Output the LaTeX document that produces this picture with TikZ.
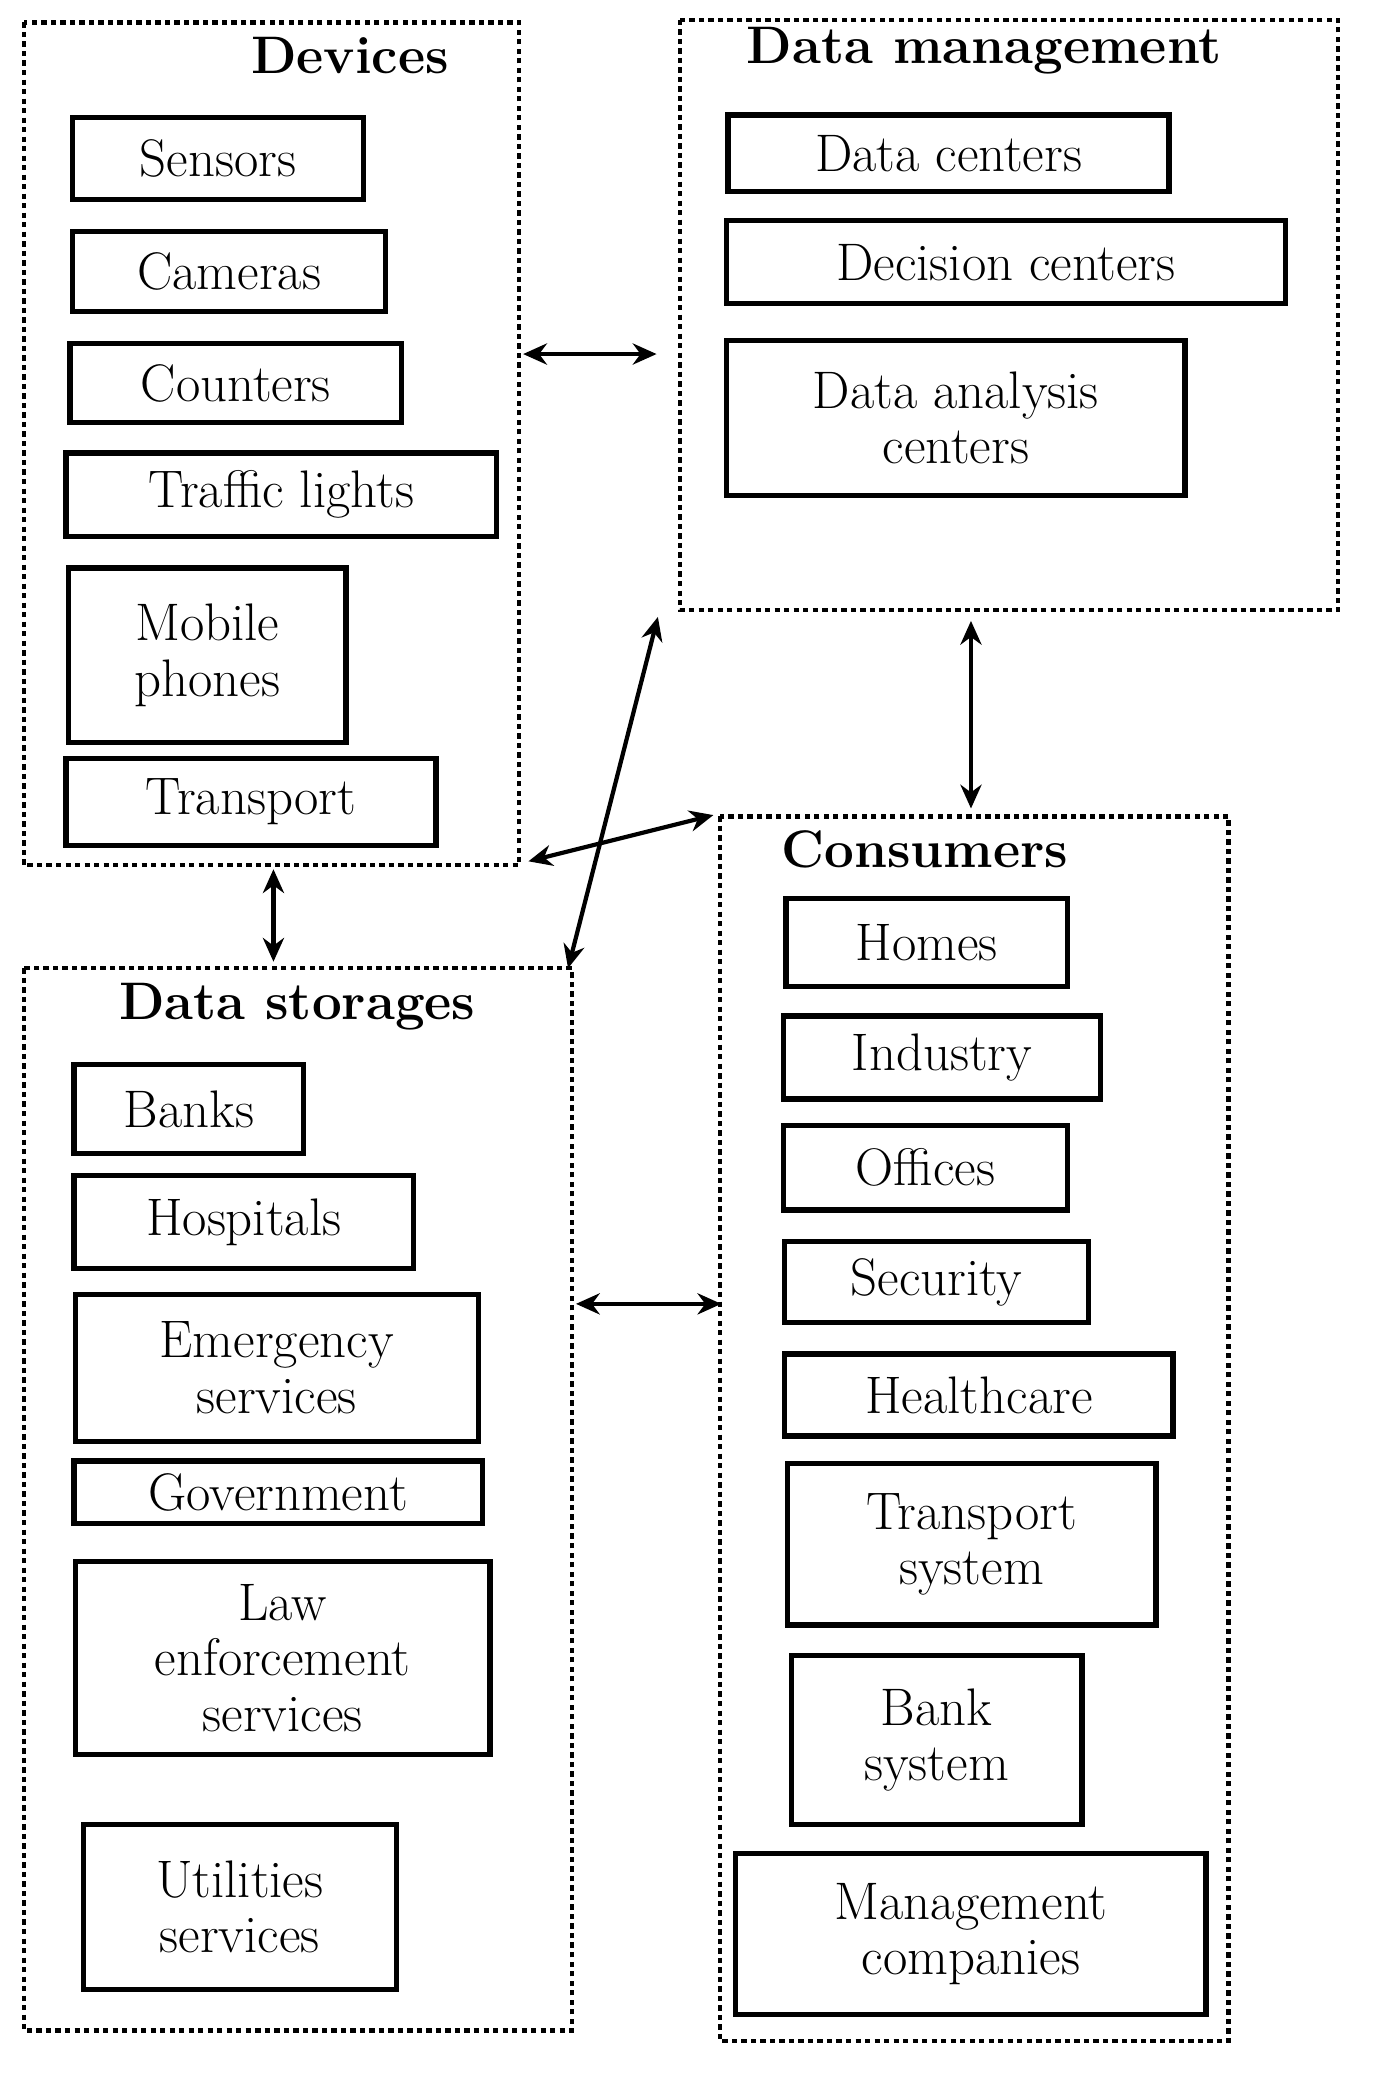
\documentclass[tikz,border=0pt]{standalone}
\usetikzlibrary{arrows.meta}
\begin{document}
\begin{tikzpicture}[x=0.5pt,y=-0.5pt,
 frame/.style={draw,line width=1.6pt,dash pattern=on 2pt off 1.6pt},
 box/.style={draw,line width=2pt},
 lbl/.style={font=\fontsize{20}{21}\selectfont,align=center,inner sep=0pt},
 ttl/.style={font=\fontsize{20}{21}\selectfont\bfseries,inner sep=0pt},
 arr/.style={{Stealth[length=9pt,width=8pt]}-{Stealth[length=9pt,width=8pt]},line width=1.6pt}]
\useasboundingbox (0,0) rectangle (1040,1573);
\newcommand{\bx}[4]{\draw[box] (#1) rectangle (#2); \node[lbl] at ($(#1)!0.5!(#2)$) {#3};}
\def\B#1#2#3#4#5#6{\draw[box] (#2,#3) rectangle (#4,#5); \node[lbl] (#1) at ({(#2+#4)/2},{(#3+#5)/2}) {#6};}
% frames
\draw[frame] (18,17) rectangle (393,655); \node[ttl] (tdev) at (265,42) {Devices};
\draw[frame] (515,15) rectangle (1013,462); \node[ttl] (tdm) at (745,38) {Data management};
\draw[frame] (545,618) rectangle (930,1545); \node[ttl] (tcon) at (700,643) {Consumers};
\draw[frame] (18,733) rectangle (433,1537); \node[ttl] (tds) at (225,762) {Data storages};
\B{s}{55}{89}{275}{151}{Sensors}
\B{c}{55}{175}{292}{236}{Cameras}
\B{co}{53}{260}{304}{320}{Counters}
\B{tl}{50}{343}{376}{406}{Traffic lights}
\B{mp}{52}{430}{262}{562}{Mobile\\phones}
\B{tr}{50}{574}{330}{640}{Transport}
\B{dc}{551}{87}{885}{145}{Data centers}
\B{dec}{550}{167}{973}{230}{Decision centers}
\B{dac}{550}{258}{897}{375}{Data analysis\\centers}
\B{h}{595}{680}{808}{747}{Homes}
\B{in}{593}{769}{833}{832}{Industry}
\B{of}{593}{852}{808}{916}{Offices}
\B{se}{594}{940}{824}{1001}{Security}
\B{hc}{594}{1025}{888}{1087}{Healthcare}
\B{ts}{596}{1108}{875}{1230}{Transport\\system}
\B{bs}{599}{1253}{819}{1381}{Bank\\system}
\B{mc}{557}{1403}{913}{1525}{Management\\companies}
\B{ba}{56}{806}{230}{873}{Banks}
\B{ho}{56}{890}{313}{960}{Hospitals}
\B{es}{57}{980}{362}{1091}{Emergency\\services}
\B{go}{56}{1106}{365}{1153}{Government}
\B{le}{57}{1182}{371}{1328}{Law\\enforcement\\services}
\B{us}{63}{1381}{300}{1506}{Utilities\\services}
% arrows
\coordinate (a1) at (396,268); \coordinate (a2) at (497,268);
\coordinate (b1) at (735,470); \coordinate (b2) at (735,612);
\coordinate (c1) at (207,658); \coordinate (c2) at (207,728);
\coordinate (d1) at (400,652); \coordinate (d2) at (540,617);
\coordinate (e1) at (498,467); \coordinate (e2) at (430,733);
\coordinate (f1) at (436,987); \coordinate (f2) at (546,987);
\draw[arr] (a1)--(a2);
\draw[arr] (b1)--(b2);
\draw[arr] (c1)--(c2);
\draw[arr] (d1)--(d2);
\draw[arr] (e1)--(e2);
\draw[arr] (f1)--(f2);
\end{tikzpicture}
\end{document}
